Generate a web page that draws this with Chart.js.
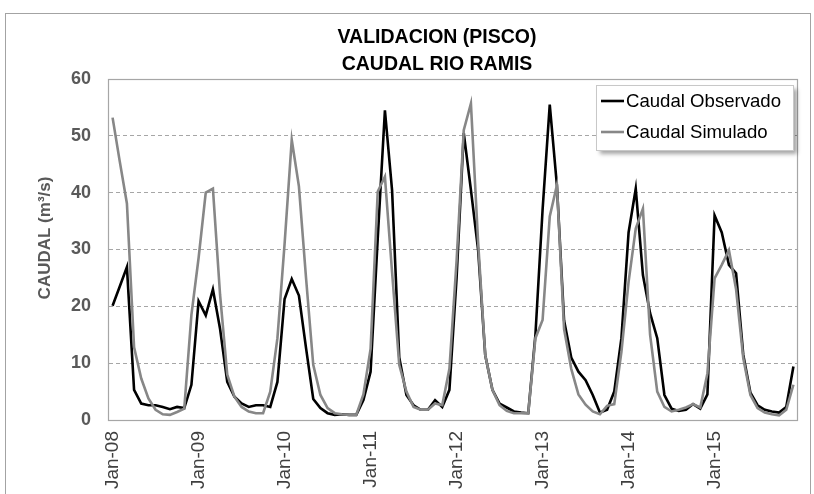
<!DOCTYPE html>
<html>
<head>
<meta charset="utf-8">
<script src="https://cdn.jsdelivr.net/npm/chart.js@4.4.1/dist/chart.umd.min.js"></script>
<style>
  html, body { margin: 0; padding: 0; background: #ffffff; }
  #wrap { position: relative; width: 814px; height: 494px; }
  canvas { display: block; }
</style>
</head>
<body>
<div id="wrap"><canvas id="c" width="814" height="494"></canvas></div>
<script>
// Monthly series, Jan-2008 .. Dec-2015
const monthNames = ['Jan','Feb','Mar','Apr','May','Jun','Jul','Aug','Sep','Oct','Nov','Dec'];
const yearSuffixes = ['08','09','10','11','12','13','14','15'];

// Caudal observado (m3/s)
const observado = [
  20.1, 23.5, 26.9, 5.3, 2.9, 2.6, 2.6, 2.3, 1.9, 2.3, 2.1, 6.2,
  20.9, 18.4, 23.0, 16.0, 6.7, 4.1, 2.9, 2.3, 2.6, 2.6, 2.3, 6.7,
  21.3, 24.8, 21.9, 12.6, 3.7, 2.1, 1.2, 0.9, 1.0, 0.9, 0.9, 3.5,
  8.5, 32.0, 54.5, 40.4, 11.0, 4.4, 2.6, 1.8, 1.8, 3.5, 2.3, 5.3,
  25.0, 50.5, 40.5, 30.0, 11.4, 5.3, 2.9, 2.2, 1.5, 1.3, 1.2, 15.0,
  37.0, 55.5, 41.3, 17.5, 11.0, 8.5, 7.0, 4.4, 1.3, 1.8, 5.0, 14.4,
  33.0, 40.7, 25.5, 18.8, 14.4, 4.4, 2.0, 1.6, 1.8, 2.8, 2.0, 4.5,
  36.0, 33.0, 27.3, 25.8, 11.5, 4.8, 2.6, 1.8, 1.5, 1.3, 2.3, 9.4
];

// Caudal simulado (m3/s)
const simulado = [
  53.2, 45.5, 38.1, 12.8, 7.3, 3.8, 1.8, 1.0, 0.9, 1.4, 2.0, 18.5,
  28.5, 40.0, 40.7, 22.0, 8.0, 4.1, 2.3, 1.5, 1.2, 1.2, 5.0, 14.4,
  31.0, 49.3, 41.1, 24.9, 9.7, 4.4, 2.1, 1.2, 1.0, 0.9, 0.9, 4.5,
  12.5, 40.2, 42.8, 26.0, 9.7, 5.0, 2.3, 1.8, 1.8, 2.9, 2.6, 9.0,
  28.0, 51.0, 55.7, 31.4, 11.4, 5.3, 2.6, 1.6, 1.2, 1.2, 1.2, 14.4,
  17.6, 35.8, 41.3, 16.0, 9.0, 4.5, 2.7, 1.5, 1.0, 2.5, 2.8, 12.0,
  24.3, 33.7, 37.2, 15.0, 5.0, 2.3, 1.5, 1.8, 2.2, 2.8, 2.2, 8.2,
  24.9, 27.3, 29.9, 23.0, 10.9, 4.4, 2.1, 1.3, 1.0, 0.8, 1.8, 6.2
];

const yMin = 0, yMax = 60, yStep = 10;
const seriesNames = ['Caudal Observado', 'Caudal Simulado'];
const titleLines = ['VALIDACION (PISCO)', 'CAUDAL RIO RAMIS'];
const yAxisTitle = 'CAUDAL (m³/s)';

const labels = [];
yearSuffixes.forEach(y => monthNames.forEach(m => labels.push(m + '-' + y)));

const BLACK = '#000000';
const GREY = '#878787';

// Frame, plot border, titles and legend box
const decor = {
  id: 'decor',
  beforeDraw(chart) {
    const ctx = chart.ctx;
    ctx.save();
    ctx.fillStyle = '#ffffff';
    ctx.fillRect(0, 0, chart.width, chart.height);
    ctx.strokeStyle = '#a3a3a3';
    ctx.lineWidth = 1;
    ctx.strokeRect(5.5, 13.5, 805, 520);
    ctx.restore();
  },
  beforeDatasetsDraw(chart) {
    const ctx = chart.ctx, a = chart.chartArea;
    ctx.save();
    ctx.strokeStyle = '#a6a6a6';
    ctx.lineWidth = 1.2;
    ctx.strokeRect(Math.round(a.left) - 0.5, Math.round(a.top) + 0.5,
                   Math.round(a.right - a.left) + 1, Math.round(a.bottom - a.top));
    ctx.restore();
  },
  afterDraw(chart) {
    const ctx = chart.ctx;
    ctx.save();
    // chart title
    ctx.fillStyle = '#000000';
    ctx.font = 'bold 19.5px "Liberation Sans", Arial, sans-serif';
    ctx.textAlign = 'center';
    ctx.textBaseline = 'middle';
    ctx.fillText(titleLines[0], 437, 38);
    ctx.fillText(titleLines[1], 437, 65);

    // value axis title
    ctx.save();
    ctx.translate(45, 238);
    ctx.rotate(-Math.PI / 2);
    ctx.fillStyle = '#595959';
    ctx.font = 'bold 17px "Liberation Sans", Arial, sans-serif';
    ctx.fillText(yAxisTitle, 0, 0);
    ctx.restore();

    // legend
    const bx = 596.5, by = 85.5, bw = 197, bh = 65;
    ctx.save();
    ctx.shadowColor = 'rgba(0,0,0,0.35)';
    ctx.shadowBlur = 4;
    ctx.shadowOffsetX = 3;
    ctx.shadowOffsetY = 3;
    ctx.fillStyle = '#ffffff';
    ctx.fillRect(bx, by, bw, bh);
    ctx.restore();
    ctx.strokeStyle = '#c8c8c8';
    ctx.lineWidth = 1;
    ctx.strokeRect(bx, by, bw, bh);
    const rows = [{ c: BLACK, y: 101 }, { c: GREY, y: 132 }];
    ctx.font = '18.6px "Liberation Sans", Arial, sans-serif';
    ctx.textAlign = 'left';
    rows.forEach((r, i) => {
      ctx.strokeStyle = r.c;
      ctx.lineWidth = 2.6;
      ctx.beginPath();
      ctx.moveTo(601, r.y);
      ctx.lineTo(624, r.y);
      ctx.stroke();
      ctx.fillStyle = '#000000';
      ctx.fillText(seriesNames[i], 626, r.y + 1);
    });
    ctx.restore();
  }
};

new Chart(document.getElementById('c'), {
  type: 'line',
  data: {
    labels: labels,
    datasets: [
      { label: seriesNames[0], data: observado, borderColor: BLACK, borderWidth: 2.6,
        pointRadius: 0, tension: 0, fill: false, order: 1 },
      { label: seriesNames[1], data: simulado, borderColor: GREY, borderWidth: 2.6,
        pointRadius: 0, tension: 0, fill: false, order: 0 }
    ]
  },
  options: {
    responsive: false,
    animation: false,
    devicePixelRatio: 1,
    layout: { padding: { left: 0, top: 79, right: 17, bottom: 0 } },
    plugins: { legend: { display: false }, title: { display: false }, tooltip: { enabled: false } },
    scales: {
      x: {
        type: 'category',
        offset: true,
        grid: { display: false, drawTicks: false },
        border: { display: false },
        ticks: {
          autoSkip: false,
          maxRotation: 90,
          minRotation: 90,
          padding: 11,
          color: '#404040',
          font: { family: '"Liberation Sans", Arial, sans-serif', size: 19 },
          callback: function (value, index) {
            return index % 12 === 0 ? this.getLabelForValue(value) : '';
          }
        },
        afterFit(scale) {
          scale.height = 74;
          scale.paddingLeft = 0;
          scale.paddingRight = 0;
        }
      },
      y: {
        min: yMin,
        max: yMax,
        grid: { color: '#a6a6a6', lineWidth: 1, drawTicks: false },
        border: { display: false, dash: [4, 3] },
        ticks: {
          stepSize: yStep,
          padding: 18,
          color: '#595959',
          font: { family: '"Liberation Sans", Arial, sans-serif', size: 18, weight: 'bold' }
        },
        afterFit(scale) { scale.width = 109; }
      }
    }
  },
  plugins: [decor]
});
</script>
</body>
</html>
